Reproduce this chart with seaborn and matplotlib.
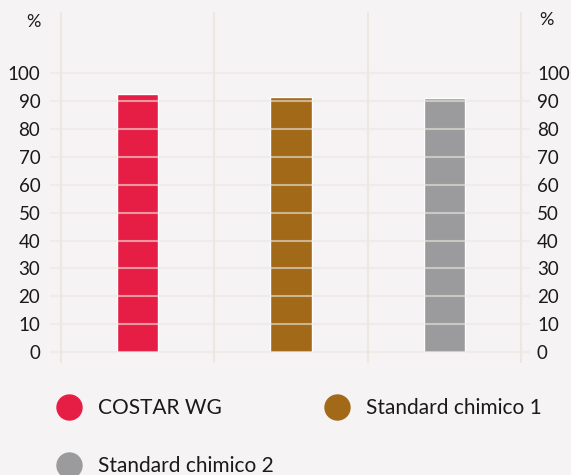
import matplotlib
matplotlib.use("Agg")
import matplotlib.pyplot as plt
from matplotlib.lines import Line2D
import seaborn as sns
import pandas as pd

categories = ["COSTAR WG", "Standard chimico 1", "Standard chimico 2"]
values = [92.5, 91.4, 91.0]
colors = ["#e61e45", "#a26918", "#9b9b9d"]
yticks = [0, 10, 20, 30, 40, 50, 60, 70, 80, 90, 100]

sns.set_theme(style="white")
plt.rcParams["font.family"] = ["Lato", "DejaVu Sans"]

BG = "#f5f3f4"
GRID = "#ebe7e1"
TXT = "#1a1a1a"
W, H = 571, 475
fig = plt.figure(figsize=(W / 100, H / 100), dpi=100, facecolor=BG)
ax = fig.add_axes([50 / W, 1 - 363 / H, 480 / W, 351 / H], facecolor=BG)

df = pd.DataFrame({"cat": categories, "val": values})
sns.barplot(data=df, x="cat", y="val", hue="cat", palette=colors,
            width=0.27, saturation=1, legend=False, ax=ax, zorder=2)

ax.set_xlim(-0.570, 2.557)
ax.set_ylim(-3.9, 121.9)
for y in yticks:
    ax.axhline(y, color=GRID, lw=1.5, zorder=3, alpha=0.6)
for x in [-0.5, 0.5, 1.5, 2.5]:
    ax.axvline(x, color=GRID, lw=1.5, zorder=1)

for s in ax.spines.values():
    s.set_visible(False)
ax.set_xticks([])
ax.set_xlabel("")
ax.set_ylabel("")
ax.set_yticks(yticks)
ax.tick_params(axis="y", length=0, pad=7, labelsize=13.5, labelcolor=TXT)
ax2 = ax.twinx()
ax2.set_ylim(ax.get_ylim())
ax2.set_yticks(yticks)
ax2.tick_params(axis="y", length=0, pad=5, labelsize=13.5, labelcolor=TXT)
for s in ax2.spines.values():
    s.set_visible(False)
ax2.grid(False)

fig.text(33 / W, 1 - 22 / H, "%", ha="center", va="center", fontsize=13, color=TXT)
fig.text(546 / W, 1 - 20 / H, "%", ha="center", va="center", fontsize=13, color=TXT)

order = [0, 2, 1]
handles = [Line2D([], [], ls="none", marker="o", markersize=18, color=colors[i]) for i in order]
labels = [categories[i] for i in order]
fig.legend(handles, labels, loc="upper left", bbox_to_anchor=(40 / W, 1 - 390 / H),
           ncol=2, frameon=False, fontsize=15, handletextpad=0.4, columnspacing=2.0,
           labelspacing=1.8, labelcolor=TXT, borderaxespad=0)

fig.savefig("out.png", dpi=100, facecolor=BG)
